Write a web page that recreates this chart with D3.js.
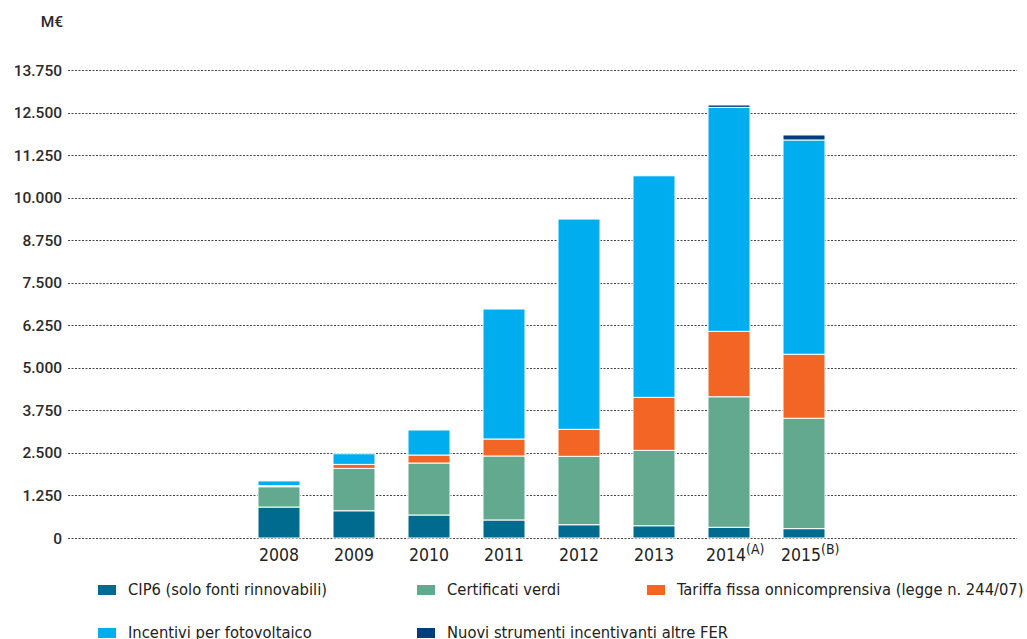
<!DOCTYPE html>
<html>
<head>
<meta charset="utf-8">
<script src="https://cdn.jsdelivr.net/npm/d3@7"></script>
<style>
  body { margin: 0; background: #fff; }
  svg { display: block; }
  .tick-label { font-family: Roboto, "Noto Sans", sans-serif; font-weight: 500; font-size: 15.5px; fill: #2b2b2b; }
  .cond { font-family: "Liberation Sans Narrow", "DejaVu Sans Condensed", sans-serif; fill: #222; }
</style>
</head>
<body>
<svg id="chart" width="1027" height="639"></svg>
<script>
const years = ["2008", "2009", "2010", "2011", "2012", "2013", "2014", "2015"];
const yearNotes = ["", "", "", "", "", "", "(A)", "(B)"];
const seriesNames = [
  "CIP6 (solo fonti rinnovabili)",
  "Certificati verdi",
  "Tariffa fissa onnicomprensiva (legge n. 244/07)",
  "Incentivi per fotovoltaico",
  "Nuovi strumenti incentivanti altre FER"
];
const seriesColors = ["#006b8f", "#62a990", "#f26524", "#00aeef", "#003d7c"];
const cip6 = [910, 800, 676, 530, 390, 360, 315, 275];
const certVerdi = [597, 1245, 1527, 1880, 2010, 2215, 3835, 3243];
const tariffa = [30, 118, 235, 499, 793, 1557, 1921, 1881];
const fotovoltaico = [140, 312, 735, 3819, 6178, 6510, 6581, 6295];
const nuovi = [0, 0, 0, 0, 0, 0, 70, 147];
const yTicks = [0, 1250, 2500, 3750, 5000, 6250, 7500, 8750, 10000, 11250, 12500, 13750];

const keys = ["cip6", "cv", "to", "pv", "nu"];
const table = years.map((y, i) => ({
  year: y, cip6: cip6[i], cv: certVerdi[i], to: tariffa[i], pv: fotovoltaico[i], nu: nuovi[i]
}));
const stacked = d3.stack().keys(keys)(table);

const svg = d3.select("#chart");
const x = d3.scaleBand().domain(years).range([241.5, 841.5]).paddingInner(0.44).paddingOuter(0.22);
const y = d3.scaleLinear().domain([0, 13750]).range([538, 70]);

// gridlines
svg.append("g")
  .selectAll("line")
  .data(yTicks)
  .join("line")
  .attr("x1", 68).attr("x2", 1017)
  .attr("y1", d => Math.round(y(d)) + 0.5).attr("y2", d => Math.round(y(d)) + 0.5)
  .attr("stroke", "#444")
  .attr("stroke-width", 1)
  .attr("stroke-dasharray", "2,1.5");

// y labels
const fmt = d3.formatLocale({ decimal: ",", thousands: ".", grouping: [3], currency: ["", "€"] }).format(",");
svg.append("g")
  .selectAll("text")
  .data(yTicks)
  .join("text")
  .attr("class", "tick-label")
  .attr("x", 62)
  .attr("y", d => y(d) + 5.5)
  .attr("text-anchor", "end")
  .text(d => fmt(d));

svg.append("text")
  .attr("class", "tick-label")
  .attr("x", 63).attr("y", 27)
  .attr("text-anchor", "end")
  .text("M€");

// bars
svg.append("g")
  .selectAll("g")
  .data(stacked)
  .join("g")
  .attr("fill", (d, i) => seriesColors[i])
  .selectAll("rect")
  .data(d => d.filter(s => s[1] - s[0] > 0))
  .join("rect")
  .attr("x", d => x(d.data.year))
  .attr("width", x.bandwidth())
  .attr("y", d => y(d[1]))
  .attr("height", d => y(d[0]) - y(d[1]))
  .attr("stroke", "#fff")
  .attr("stroke-width", 1);

// x labels
const xl = svg.append("g")
  .selectAll("text")
  .data(years)
  .join("text")
  .attr("class", "cond")
  .attr("font-size", 17.5)
  .attr("x", (d, i) => yearNotes[i] ? x(d) - 2 : x(d) + x.bandwidth() / 2)
  .attr("y", 561)
  .attr("text-anchor", (d, i) => yearNotes[i] ? "start" : "middle");
xl.append("tspan").text(d => d);
xl.append("tspan")
  .attr("font-size", 14)
  .attr("dy", -7)
  .text((d, i) => yearNotes[i]);

// legend
const legendPos = [[98, 595], [417, 595], [647, 595], [98, 638], [417, 638]];
const lg = svg.append("g")
  .selectAll("g")
  .data(seriesNames)
  .join("g")
  .attr("transform", (d, i) => `translate(${legendPos[i][0]},${legendPos[i][1]})`);
lg.append("rect")
  .attr("x", 0).attr("y", -10)
  .attr("width", 18).attr("height", 10)
  .attr("fill", (d, i) => seriesColors[i]);
lg.append("text")
  .attr("class", "cond")
  .attr("x", 30).attr("y", 0)
  .attr("font-size", 16.4)
  .text(d => d);
</script>
</body>
</html>
